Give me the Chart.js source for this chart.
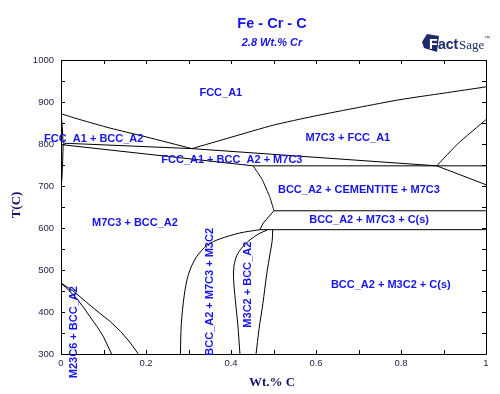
<!DOCTYPE html>
<html>
<head>
    <meta charset="utf-8">
    <title>Fe - Cr - C</title>
    <script src="https://cdn.jsdelivr.net/npm/chart.js@4.4.0/dist/chart.umd.min.js"></script>
    <style>
        html, body { margin: 0; padding: 0; background: #fff; }
        #wrap { width: 500px; height: 394px; }
    </style>
</head>
<body>
<div id="wrap"><canvas id="myChart" width="500" height="394"></canvas></div>
<script>
    // axis ticks
    const xTicks = [0, 0.2, 0.4, 0.6, 0.8, 1];
    const yTicks = [300, 400, 500, 600, 700, 800, 900, 1000];

    // phase boundaries, Wt.% C vs T(C)
    const a3X = [0, 0.045, 0.115, 0.2, 0.308];
    const a3T = [872, 858, 838, 817, 789];
    const acmX = [0.308, 0.4, 0.5, 0.594, 0.7, 0.8, 0.9, 1.0];
    const acmT = [789, 816, 845, 866, 887, 906, 921, 936];
    const upper3X = [0.005, 0.308, 0.884];
    const upper3T = [802, 789, 748];
    const lower3X = [0.005, 0.452];
    const lower3T = [798, 748];
    const eutX = [0.452, 1.0];
    const eutT = [748, 748];
    const rightUpX = [0.884, 0.935, 1.0];
    const rightUpT = [748, 802, 858];
    const rightDownX = [0.884, 1.0];
    const rightDownT = [748, 703];
    const cemX = [0.452, 0.473, 0.492, 0.501];
    const cemT = [748, 716, 672, 641];
    const line641X = [0.501, 1.0];
    const line641T = [641, 641];
    const diagX = [0.501, 0.476, 0.468];
    const diagT = [641, 612, 596];
    const line596X = [0.468, 1.0];
    const line596T = [596, 596];
    const m3c2RightX = [0.498, 0.497, 0.492, 0.484, 0.475, 0.466, 0.459];
    const m3c2RightT = [596, 570, 540, 490, 420, 360, 300];
    const m7c3LeftX = [0.281, 0.283, 0.290, 0.300, 0.318, 0.345, 0.374, 0.42, 0.468];
    const m7c3LeftT = [300, 370, 440, 490, 530, 560, 574, 588, 596];
    const m3c2LeftX = [0.421, 0.416, 0.410, 0.406, 0.407, 0.414, 0.425, 0.445, 0.465, 0.485];
    const m3c2LeftT = [300, 370, 430, 480, 510, 535, 552, 572, 586, 595];
    const edgeTopX = [0, 0.003, 0.005];
    const edgeTopT = [872, 840, 802];
    const edgeLowX = [0.005, 0.004, 0.002, 0];
    const edgeLowT = [798, 760, 715, 700];
    const m23aX = [0, 0.03, 0.06, 0.09, 0.115, 0.14, 0.162, 0.182];
    const m23aT = [469, 449, 423, 398, 378, 354, 328, 300];
    const m23bX = [0, 0.02, 0.037, 0.053, 0.068, 0.085, 0.100, 0.119];
    const m23bT = [469, 450, 432, 411, 389, 365, 341, 300];

    // phase field labels
    const labelText = ['FCC_A1', 'FCC_A1 + BCC_A2', 'M7C3 + FCC_A1', 'FCC_A1 + BCC_A2 + M7C3',
        'BCC_A2 + CEMENTITE + M7C3', 'M7C3 + BCC_A2', 'BCC_A2 + M7C3 + C(s)', 'BCC_A2 + M3C2 + C(s)',
        'M23C6 + BCC_A2', 'BCC_A2 + M7C3 + M3C2', 'M3C2 + BCC_A2'];
    const labelX = [0.376, 0.077, 0.675, 0.402, 0.701, 0.174, 0.725, 0.776, 0.031, 0.351, 0.44];
    const labelT = [922, 813, 815, 763, 691, 612, 620, 465, 352, 448, 465];
    const labelRot = [0, 0, 0, 0, 0, 0, 0, 0, 1, 1, 1];

    const curves = [
        [a3X, a3T, 0.2], [acmX, acmT, 0.2], [upper3X, upper3T, 0], [lower3X, lower3T, 0],
        [eutX, eutT, 0], [rightUpX, rightUpT, 0.1], [rightDownX, rightDownT, 0],
        [cemX, cemT, 0.1], [line641X, line641T, 0], [diagX, diagT, 0], [line596X, line596T, 0],
        [m3c2RightX, m3c2RightT, 0.3], [m7c3LeftX, m7c3LeftT, 0.3], [m3c2LeftX, m3c2LeftT, 0.3],
        [edgeTopX, edgeTopT, 0], [edgeLowX, edgeLowT, 0], [m23aX, m23aT, 0], [m23bX, m23bT, 0]
    ];

    const datasets = curves.map(function (c) {
        return {
            data: c[0].map(function (x, i) { return { x: x, y: c[1][i] }; }),
            showLine: true,
            borderColor: '#000',
            borderWidth: 1,
            pointRadius: 0,
            tension: c[2],
            fill: false
        };
    });

    const BLUE = '#1515e8';
    const NAVY = '#16166e';

    // frame, inward ticks, texts
    const decor = {
        id: 'decor',
        afterDatasetsDraw(chart) {
            const ctx = chart.ctx;
            const a = chart.chartArea;
            const xs = chart.scales.x, ys = chart.scales.y;
            ctx.save();
            ctx.strokeStyle = '#000';
            ctx.lineWidth = 1;
            ctx.beginPath();
            ctx.rect(Math.round(a.left) + 0.5, Math.round(a.top) + 0.5,
                Math.round(a.right - a.left), Math.round(a.bottom - a.top));
            ctx.stroke();
            ctx.beginPath();
            xs.ticks.forEach(function (t) {
                const px = Math.round(xs.getPixelForValue(t.value)) + 0.5;
                ctx.moveTo(px, a.bottom); ctx.lineTo(px, a.bottom - 4);
                ctx.moveTo(px, a.top); ctx.lineTo(px, a.top + 4);
            });
            ys.ticks.forEach(function (t) {
                const py = Math.round(ys.getPixelForValue(t.value)) + 0.5;
                ctx.moveTo(a.left, py); ctx.lineTo(a.left + 4, py);
                ctx.moveTo(a.right, py); ctx.lineTo(a.right - 4, py);
            });
            ctx.stroke();

            ctx.fillStyle = BLUE;
            ctx.font = 'bold 11px "Liberation Sans", Arial, sans-serif';
            ctx.textAlign = 'center';
            ctx.textBaseline = 'middle';
            labelText.forEach(function (txt, i) {
                const px = xs.getPixelForValue(labelX[i]);
                const py = ys.getPixelForValue(labelT[i]);
                ctx.save();
                ctx.translate(px, py);
                if (labelRot[i]) ctx.rotate(-Math.PI / 2);
                ctx.fillText(txt, 0, 0);
                ctx.restore();
            });

            // titles
            ctx.font = 'bold 14.5px "Liberation Sans", Arial, sans-serif';
            ctx.fillText('Fe - Cr - C', 272, 24);
            ctx.font = 'italic bold 11px "Liberation Sans", Arial, sans-serif';
            ctx.fillText('2.8 Wt.% Cr', 272, 43);

            ctx.fillStyle = NAVY;
            ctx.font = 'bold 13px "Liberation Serif", "Times New Roman", serif';
            ctx.fillText('Wt.% C', 272, 383);
            ctx.save();
            ctx.translate(17, 205);
            ctx.rotate(-Math.PI / 2);
            ctx.fillText('T(C)', 0, 0);
            ctx.restore();

            // FactSage logo
            ctx.fillStyle = '#1c2a6a';
            ctx.beginPath();
            ctx.moveTo(427, 34); ctx.lineTo(439, 36); ctx.lineTo(437, 52);
            ctx.lineTo(424, 48); ctx.lineTo(422, 42);
            ctx.closePath();
            ctx.fill();
            ctx.textAlign = 'left';
            ctx.textBaseline = 'alphabetic';
            ctx.font = 'bold 14px "Liberation Sans", Arial, sans-serif';
            ctx.fillStyle = '#ffffff';
            ctx.fillText('F', 429, 49);
            ctx.fillStyle = '#1c2a6a';
            ctx.fillText('act', 438, 49);
            ctx.font = '13px "Liberation Serif", serif';
            ctx.fillText('Sage', 459, 49);
            ctx.font = '6px "Liberation Sans", Arial, sans-serif';
            ctx.fillText('\u2122', 484, 40);
            ctx.restore();
        }
    };

    const config = {
        type: 'scatter',
        data: { datasets: datasets },
        options: {
            responsive: false,
            animation: false,
            events: [],
            layout: { padding: { top: 60, right: 14, left: 0, bottom: 0 } },
            plugins: { legend: { display: false }, tooltip: { enabled: false }, title: { display: false } },
            scales: {
                x: {
                    type: 'linear',
                    min: 0,
                    max: 1,
                    afterFit(scale) { scale.height = 40; },
                    grid: { display: false, drawTicks: false },
                    border: { display: false },
                    ticks: {
                        stepSize: 0.1,
                        autoSkip: false,
                        maxRotation: 0,
                        padding: 4,
                        color: '#1e1e4a',
                        font: { family: '"Liberation Sans", Arial, sans-serif', size: 9.5 },
                        callback(value) {
                            const v = Math.round(value * 10) / 10;
                            return xTicks.some(function (t) { return Math.abs(t - v) < 1e-6; }) ? String(v) : '';
                        }
                    }
                },
                y: {
                    type: 'linear',
                    min: 300,
                    max: 1000,
                    afterFit(scale) { scale.width = 61; },
                    grid: { display: false, drawTicks: false },
                    border: { display: false },
                    ticks: {
                        stepSize: 50,
                        autoSkip: false,
                        padding: 7,
                        color: '#1e1e4a',
                        font: { family: '"Liberation Sans", Arial, sans-serif', size: 9.5 },
                        callback(value) {
                            return yTicks.indexOf(value) >= 0 ? String(value) : '';
                        }
                    }
                }
            }
        },
        plugins: [decor]
    };

    const myChart = new Chart(document.getElementById('myChart'), config);
</script>
</body>
</html>
